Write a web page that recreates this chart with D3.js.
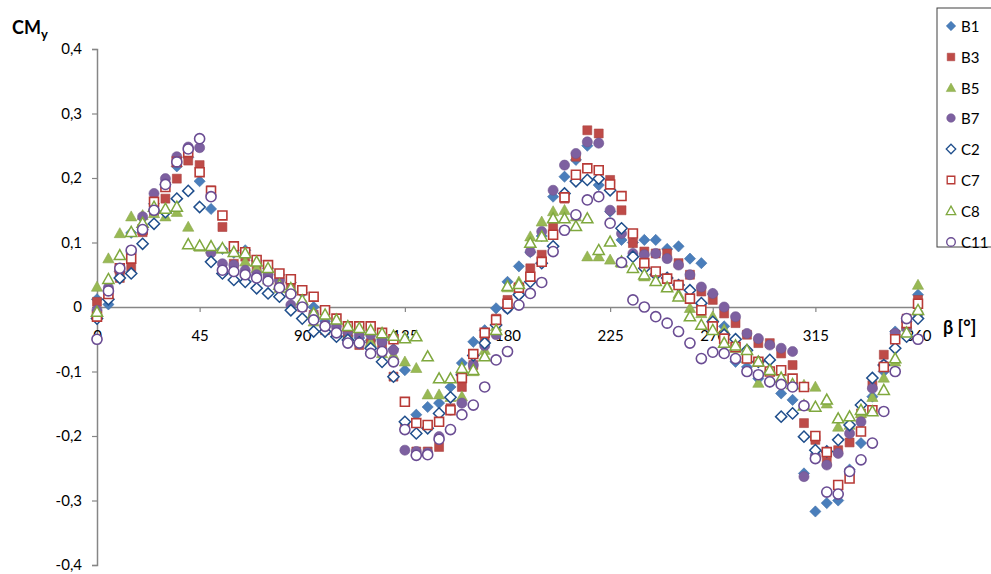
<!DOCTYPE html>
<html>
<head>
<meta charset="utf-8">
<script src="https://cdn.jsdelivr.net/npm/d3@7"></script>
<style>
  html, body { margin: 0; padding: 0; background: #fff; }
  svg { display: block; font-family: Lato, "Open Sans", sans-serif; }
</style>
</head>
<body>
<svg id="chart" width="991" height="574"></svg>
<script>
// Yaw moment coefficient CMy against wind angle β, measured every 5°
const angles = [0,5,10,15,20,25,30,35,40,45,50,55,60,65,70,75,80,85,90,95,100,105,110,115,120,125,130,135,140,145,150,155,160,165,170,175,180,185,190,195,200,205,210,215,220,225,230,235,240,245,250,255,260,265,270,275,280,285,290,295,300,305,310,315,320,325,330,335,340,345,350,355,360];

const B1 = [0.012,0.004,0.055,0.115,0.12,0.16,0.19,0.218,0.232,0.195,0.152,0.09,0.084,0.088,0.072,0.06,0.05,0.038,0.022,0.0,-0.022,-0.041,-0.045,-0.048,-0.052,-0.05,-0.065,-0.098,-0.167,-0.155,-0.149,-0.124,-0.087,-0.054,-0.036,-0.002,0.039,0.063,0.085,0.11,0.171,0.202,0.228,0.25,0.189,0.148,0.104,0.1,0.104,0.104,0.09,0.094,0.075,0.068,0.02,-0.03,-0.085,-0.093,-0.111,-0.116,-0.134,-0.144,-0.258,-0.317,-0.304,-0.3,-0.252,-0.211,-0.139,-0.1,-0.038,-0.023,0.019];
const B3 = [0.008,0.02,0.045,0.062,0.116,0.148,0.168,0.199,0.227,0.22,0.181,0.124,0.067,0.078,0.06,0.05,0.037,0.034,0.0,-0.012,-0.036,-0.04,-0.045,-0.059,-0.056,-0.06,-0.108,-0.183,-0.224,-0.224,-0.217,-0.157,-0.124,-0.09,-0.05,-0.018,0.011,0.026,0.06,0.081,0.125,0.168,0.233,0.274,0.269,0.197,0.15,0.099,0.086,0.083,0.083,0.068,0.05,0.024,0.011,-0.01,-0.025,-0.043,-0.056,-0.056,-0.072,-0.09,-0.18,-0.206,-0.24,-0.222,-0.21,-0.165,-0.121,-0.074,-0.043,-0.018,0.011];
const B5 = [0.031,0.075,0.114,0.14,0.142,0.145,0.14,0.147,0.124,0.093,0.09,0.09,0.085,0.07,0.06,0.042,0.029,0.024,0.006,-0.023,-0.025,-0.04,-0.046,-0.05,-0.055,-0.072,-0.075,-0.085,-0.095,-0.136,-0.136,-0.14,-0.139,-0.1,-0.067,-0.03,0.03,0.039,0.109,0.132,0.148,0.15,0.14,0.078,0.078,0.073,0.068,0.06,0.047,0.04,0.032,0.02,-0.002,-0.01,-0.015,-0.035,-0.064,-0.08,-0.118,-0.095,-0.1,-0.113,-0.121,-0.124,-0.15,-0.186,-0.183,-0.165,-0.14,-0.11,-0.085,-0.03,0.034];
const B7 = [-0.005,0.03,0.057,0.085,0.14,0.176,0.199,0.233,0.248,0.247,0.084,0.067,0.065,0.057,0.05,0.05,0.042,0.003,0.005,-0.012,-0.028,-0.03,-0.038,-0.043,-0.043,-0.054,-0.067,-0.222,-0.224,-0.226,-0.201,-0.16,-0.149,-0.09,-0.06,-0.043,-0.002,0.02,0.086,0.117,0.181,0.22,0.238,0.256,0.254,0.15,0.114,0.083,0.081,0.083,0.075,0.065,0.05,0.031,0.021,0.0,-0.015,-0.041,-0.049,-0.059,-0.064,-0.069,-0.263,-0.23,-0.245,-0.227,-0.196,-0.178,-0.126,-0.09,-0.041,-0.033,-0.01];
const C2 = [-0.018,0.012,0.045,0.052,0.098,0.129,0.147,0.168,0.18,0.155,0.07,0.052,0.042,0.039,0.029,0.021,0.016,-0.005,-0.018,-0.038,-0.038,-0.046,-0.051,-0.055,-0.064,-0.085,-0.108,-0.178,-0.196,-0.188,-0.165,-0.14,-0.105,-0.075,-0.056,-0.028,-0.002,0.019,0.039,0.068,0.094,0.176,0.195,0.197,0.199,0.181,0.122,0.078,0.06,0.05,0.045,0.034,0.026,0.006,-0.023,-0.043,-0.05,-0.067,-0.085,-0.082,-0.17,-0.165,-0.201,-0.222,-0.224,-0.206,-0.183,-0.152,-0.11,-0.09,-0.064,-0.046,-0.018];
const C7 = [-0.015,0.02,0.06,0.075,0.12,0.163,0.186,0.225,0.24,0.209,0.18,0.142,0.094,0.085,0.073,0.065,0.052,0.043,0.026,0.016,-0.005,-0.018,-0.03,-0.03,-0.03,-0.04,-0.05,-0.147,-0.18,-0.183,-0.178,-0.16,-0.11,-0.073,-0.04,-0.02,0.005,0.03,0.047,0.07,0.112,0.17,0.205,0.215,0.212,0.19,0.172,0.114,0.068,0.055,0.044,0.034,0.013,-0.005,-0.03,-0.049,-0.062,-0.08,-0.085,-0.1,-0.098,-0.111,-0.124,-0.2,-0.225,-0.276,-0.266,-0.193,-0.16,-0.093,-0.05,-0.025,0.005];
const C8 = [-0.008,0.043,0.08,0.116,0.13,0.155,0.152,0.155,0.097,0.095,0.094,0.091,0.085,0.083,0.07,0.06,0.034,0.029,0.01,-0.01,-0.012,-0.02,-0.03,-0.033,-0.036,-0.041,-0.045,-0.049,-0.046,-0.077,-0.111,-0.111,-0.095,-0.098,-0.077,-0.036,0.032,0.035,0.099,0.109,0.137,0.137,0.125,0.137,0.088,0.101,0.07,0.06,0.05,0.04,0.03,0.016,-0.015,-0.028,-0.036,-0.056,-0.06,-0.067,-0.085,-0.098,-0.11,-0.12,-0.153,-0.155,-0.144,-0.173,-0.17,-0.16,-0.162,-0.129,-0.08,-0.04,-0.005];
const C11 = [-0.05,0.025,0.06,0.088,0.12,0.15,0.19,0.225,0.245,0.261,0.171,0.057,0.055,0.05,0.045,0.04,0.03,0.02,0.0,-0.02,-0.03,-0.04,-0.056,-0.056,-0.072,-0.069,-0.085,-0.19,-0.23,-0.229,-0.205,-0.19,-0.167,-0.152,-0.124,-0.082,-0.069,0.003,0.021,0.038,0.086,0.119,0.143,0.166,0.171,0.13,0.069,0.011,0.0,-0.015,-0.025,-0.038,-0.056,-0.08,-0.07,-0.072,-0.08,-0.1,-0.105,-0.116,-0.12,-0.124,-0.153,-0.235,-0.287,-0.29,-0.255,-0.237,-0.211,-0.162,-0.1,-0.018,-0.05];

const xTicks = [0,45,90,135,180,225,270,315,360];
const yTicks = [-0.4,-0.3,-0.2,-0.1,0,0.1,0.2,0.3,0.4];

const seriesNames = ["B1","B3","B5","B7","C2","C7","C8","C11"];
const seriesValues = [B1,B3,B5,B7,C2,C7,C8,C11];
const seriesShapes = ["diamond","square","triangle","circle","diamond","square","triangle","circle"];
const seriesFilled = [true,true,true,true,false,false,false,false];
const seriesColors = ["#4A7EBB","#BE4B48","#98B954","#7D60A0","#1F4E8C","#B83A36","#7FA83E","#6A4C93"];

const svg = d3.select("#chart");
const x = d3.scaleLinear().domain([0, 360]).range([97, 918]);
const y = d3.scaleLinear().domain([-0.4, 0.4]).range([565, 49]);
const fmt = v => (Math.abs(v) < 1e-9 ? "0" : d3.format(".1f")(v).replace(".", ",").replace("−", "-"));
const axisColor = "#868686";

// Y axis
const yAxis = svg.append("g").attr("transform", `translate(${x(0)},0)`)
  .call(d3.axisLeft(y).tickValues(yTicks).tickSize(5).tickPadding(10).tickFormat(fmt));
yAxis.select(".domain").attr("stroke", axisColor).attr("stroke-width", 1.5);
yAxis.selectAll(".tick line").attr("stroke", axisColor).attr("stroke-width", 1.2);
yAxis.selectAll("text").attr("fill", "#000").style("font-size", "15px")
  .style("font-family", "Lato, 'Open Sans', sans-serif");

// X axis along the zero line
const xAxis = svg.append("g").attr("transform", `translate(0,${y(0)})`)
  .call(d3.axisBottom(x).tickValues(xTicks).tickSize(5).tickSizeOuter(0).tickPadding(18).tickFormat(d => String(d)));
xAxis.select(".domain").attr("stroke", axisColor).attr("stroke-width", 1.5);
xAxis.selectAll(".tick line").attr("stroke", axisColor).attr("stroke-width", 1.2);
xAxis.selectAll("text").attr("fill", "#000").style("font-size", "15px")
  .style("font-family", "Lato, 'Open Sans', sans-serif");

// Marker path generator
function markerPath(shape) {
  if (shape === "diamond") return "M0,-5.6L5.6,0L0,5.6L-5.6,0Z";
  if (shape === "square") return d3.symbol(d3.symbolSquare, 80)();
  if (shape === "triangle") return "M0,-5.8L5.6,4.2L-5.6,4.2Z";
  return d3.symbol(d3.symbolCircle, 80)();
}

function styleMarker(sel, i) {
  if (seriesFilled[i]) {
    sel.attr("fill", seriesColors[i]).attr("stroke", d3.color(seriesColors[i]).darker(0.3)).attr("stroke-width", 0.6);
  } else {
    const s = seriesShapes[i] === "triangle" || seriesShapes[i] === "diamond" ? 1.5 : 1.6;
    sel.attr("fill", "#fff").attr("stroke", seriesColors[i]).attr("stroke-width", s);
  }
}

// Data points
seriesValues.forEach((vals, i) => {
  const g = svg.append("g").attr("class", "series-" + seriesNames[i]);
  g.selectAll("path")
    .data(angles.map((a, k) => ({ a, v: vals[k] })))
    .join("path")
    .attr("d", markerPath(seriesShapes[i]))
    .attr("transform", d => `translate(${x(d.a)},${y(d.v)})`)
    .call(styleMarker, i);
});

// Axis titles
const yTitle = svg.append("text").attr("x", 12).attr("y", 34)
  .style("font-size", "18px").style("font-weight", "bold").attr("fill", "#000");
yTitle.append("tspan").text("CM");
yTitle.append("tspan").attr("dy", 5).style("font-size", "13px").text("y");

svg.append("text").attr("x", 943).attr("y", 334)
  .style("font-size", "18px").style("font-weight", "bold").attr("fill", "#000")
  .text("β [°]");

// Legend
const legend = svg.append("g");
legend.append("rect").attr("x", 937).attr("y", 8).attr("width", 70).attr("height", 239)
  .attr("fill", "#fff").attr("stroke", "#404040").attr("stroke-width", 1);
const legendRows = [26, 57, 88, 118, 149, 180, 211, 242];
seriesNames.forEach((name, i) => {
  const row = legend.append("g").attr("transform", `translate(0,${legendRows[i]})`);
  row.append("path").attr("d", markerPath(seriesShapes[i]))
    .attr("transform", `translate(951,0) scale(0.85)`).call(styleMarker, i);
  row.append("text").attr("x", 961).attr("y", 5.5).style("font-size", "15px")
    .attr("fill", "#000").text(name);
});
</script>
</body>
</html>
